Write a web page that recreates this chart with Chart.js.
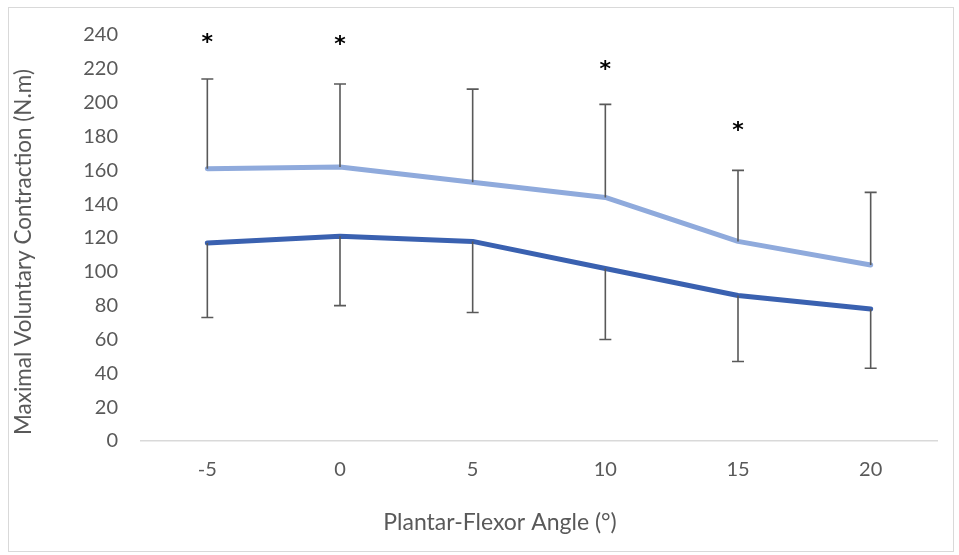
<!DOCTYPE html>
<html>
<head>
<meta charset="utf-8">
<script src="https://cdn.jsdelivr.net/npm/chart.js@4"></script>
<style>
  html, body { margin: 0; padding: 0; background: #fff; }
  #wrap { position: relative; width: 959px; height: 555px; }
  #frame { position: absolute; left: 8px; top: 7px; width: 946px; height: 545px; border: 1px solid #D9D9D9; box-sizing: border-box; }
  canvas { position: absolute; left: 0; top: 0; }
</style>
</head>
<body>
<div id="wrap">
  <div id="frame"></div>
  <canvas id="mvcChart" width="959" height="555"></canvas>
</div>
<script>
const angles = ["-5", "0", "5", "10", "15", "20"];
const upperMean = [161, 162, 153, 144, 118, 104];
const upperSD = [53, 49, 55, 55, 42, 43];
const lowerMean = [117, 121, 118, 102, 86, 78];
const lowerSD = [44, 41, 42, 42, 39, 35];
// y position of the significance marks (null = none)
const starY = [238, 237, null, 222, 186, null];
const yTicks = [0, 20, 40, 60, 80, 100, 120, 140, 160, 180, 200, 220, 240];
const xTitle = 'Plantar-Flexor Angle (°)';
const yTitle = 'Maximal Voluntary Contraction (N.m)';

const fontFamily = "Lato, 'Open Sans', sans-serif";
const textGray = '#595959';

const errorBars = {
  id: 'errorBars',
  afterDatasetsDraw(chart) {
    const ctx = chart.ctx;
    const x = chart.scales.x, y = chart.scales.y;
    ctx.save();
    ctx.strokeStyle = '#595959';
    ctx.lineWidth = 1.6;
    const cap = 6;
    angles.forEach((a, i) => {
      const px = x.getPixelForValue(i);
      const segs = [
        [upperMean[i], upperMean[i] + upperSD[i]],
        [lowerMean[i], lowerMean[i] - lowerSD[i]]
      ];
      segs.forEach(([from, to]) => {
        const y0 = y.getPixelForValue(from), y1 = y.getPixelForValue(to);
        ctx.beginPath();
        ctx.moveTo(px, y0);
        ctx.lineTo(px, y1);
        ctx.moveTo(px - cap, y1);
        ctx.lineTo(px + cap, y1);
        ctx.stroke();
      });
    });
    ctx.restore();
  },
  beforeDatasetsDraw(chart) {
    const ctx = chart.ctx;
    const x = chart.scales.x, y = chart.scales.y;
    ctx.save();
    ctx.fillStyle = '#000';
    ctx.font = "bold 22px 'DejaVu Sans', sans-serif";
    ctx.textAlign = 'center';
    ctx.textBaseline = 'middle';
    starY.forEach((v, i) => {
      if (v === null) return;
      ctx.fillText('*', x.getPixelForValue(i), y.getPixelForValue(v) + 5);
    });
    ctx.restore();
  }
};

// axis titles, placed the way the source program centres them
const axisTitles = {
  id: 'axisTitles',
  afterDraw(chart) {
    const ctx = chart.ctx;
    const area = chart.chartArea;
    ctx.save();
    ctx.fillStyle = textGray;
    ctx.textAlign = 'center';
    ctx.textBaseline = 'middle';
    ctx.font = "23px " + fontFamily;
    ctx.fillText(xTitle, (area.left + area.right) / 2 - 39, 523);
    ctx.translate(24, (area.top + area.bottom) / 2 + 14);
    ctx.rotate(-Math.PI / 2);
    ctx.font = "22.5px " + fontFamily;
    ctx.fillText(yTitle, 0, 0);
    ctx.restore();
  }
};

new Chart(document.getElementById('mvcChart'), {
  type: 'line',
  data: {
    labels: angles,
    datasets: [
      {
        label: 'Upper',
        data: upperMean,
        borderColor: '#8FAADC',
        borderWidth: 5,
        pointRadius: 0,
        tension: 0,
        borderCapStyle: 'round',
        borderJoinStyle: 'round',
        fill: false
      },
      {
        label: 'Lower',
        data: lowerMean,
        borderColor: '#3A61B0',
        borderWidth: 5,
        pointRadius: 0,
        tension: 0,
        borderCapStyle: 'round',
        borderJoinStyle: 'round',
        fill: false
      }
    ]
  },
  options: {
    responsive: false,
    animation: false,
    layout: { padding: { left: 8, top: 35, right: 22, bottom: 0 } },
    plugins: {
      legend: { display: false },
      tooltip: { enabled: false }
    },
    scales: {
      x: {
        offset: true,
        grid: { display: false, drawTicks: false },
        border: { display: true, color: '#D9D9D9', width: 1.5 },
        ticks: { color: textGray, font: { family: fontFamily, size: 20 }, padding: 17 },
        afterFit(scale) { scale.height = 114; }
      },
      y: {
        min: 0,
        max: 240,
        afterBuildTicks(scale) { scale.ticks = yTicks.map(v => ({ value: v })); },
        grid: { display: false, drawTicks: false },
        border: { display: false },
        ticks: { color: textGray, font: { family: fontFamily, size: 20 }, padding: 23 },
        afterFit(scale) { scale.width = 133; }
      }
    }
  },
  plugins: [errorBars, axisTitles]
});
</script>
</body>
</html>
